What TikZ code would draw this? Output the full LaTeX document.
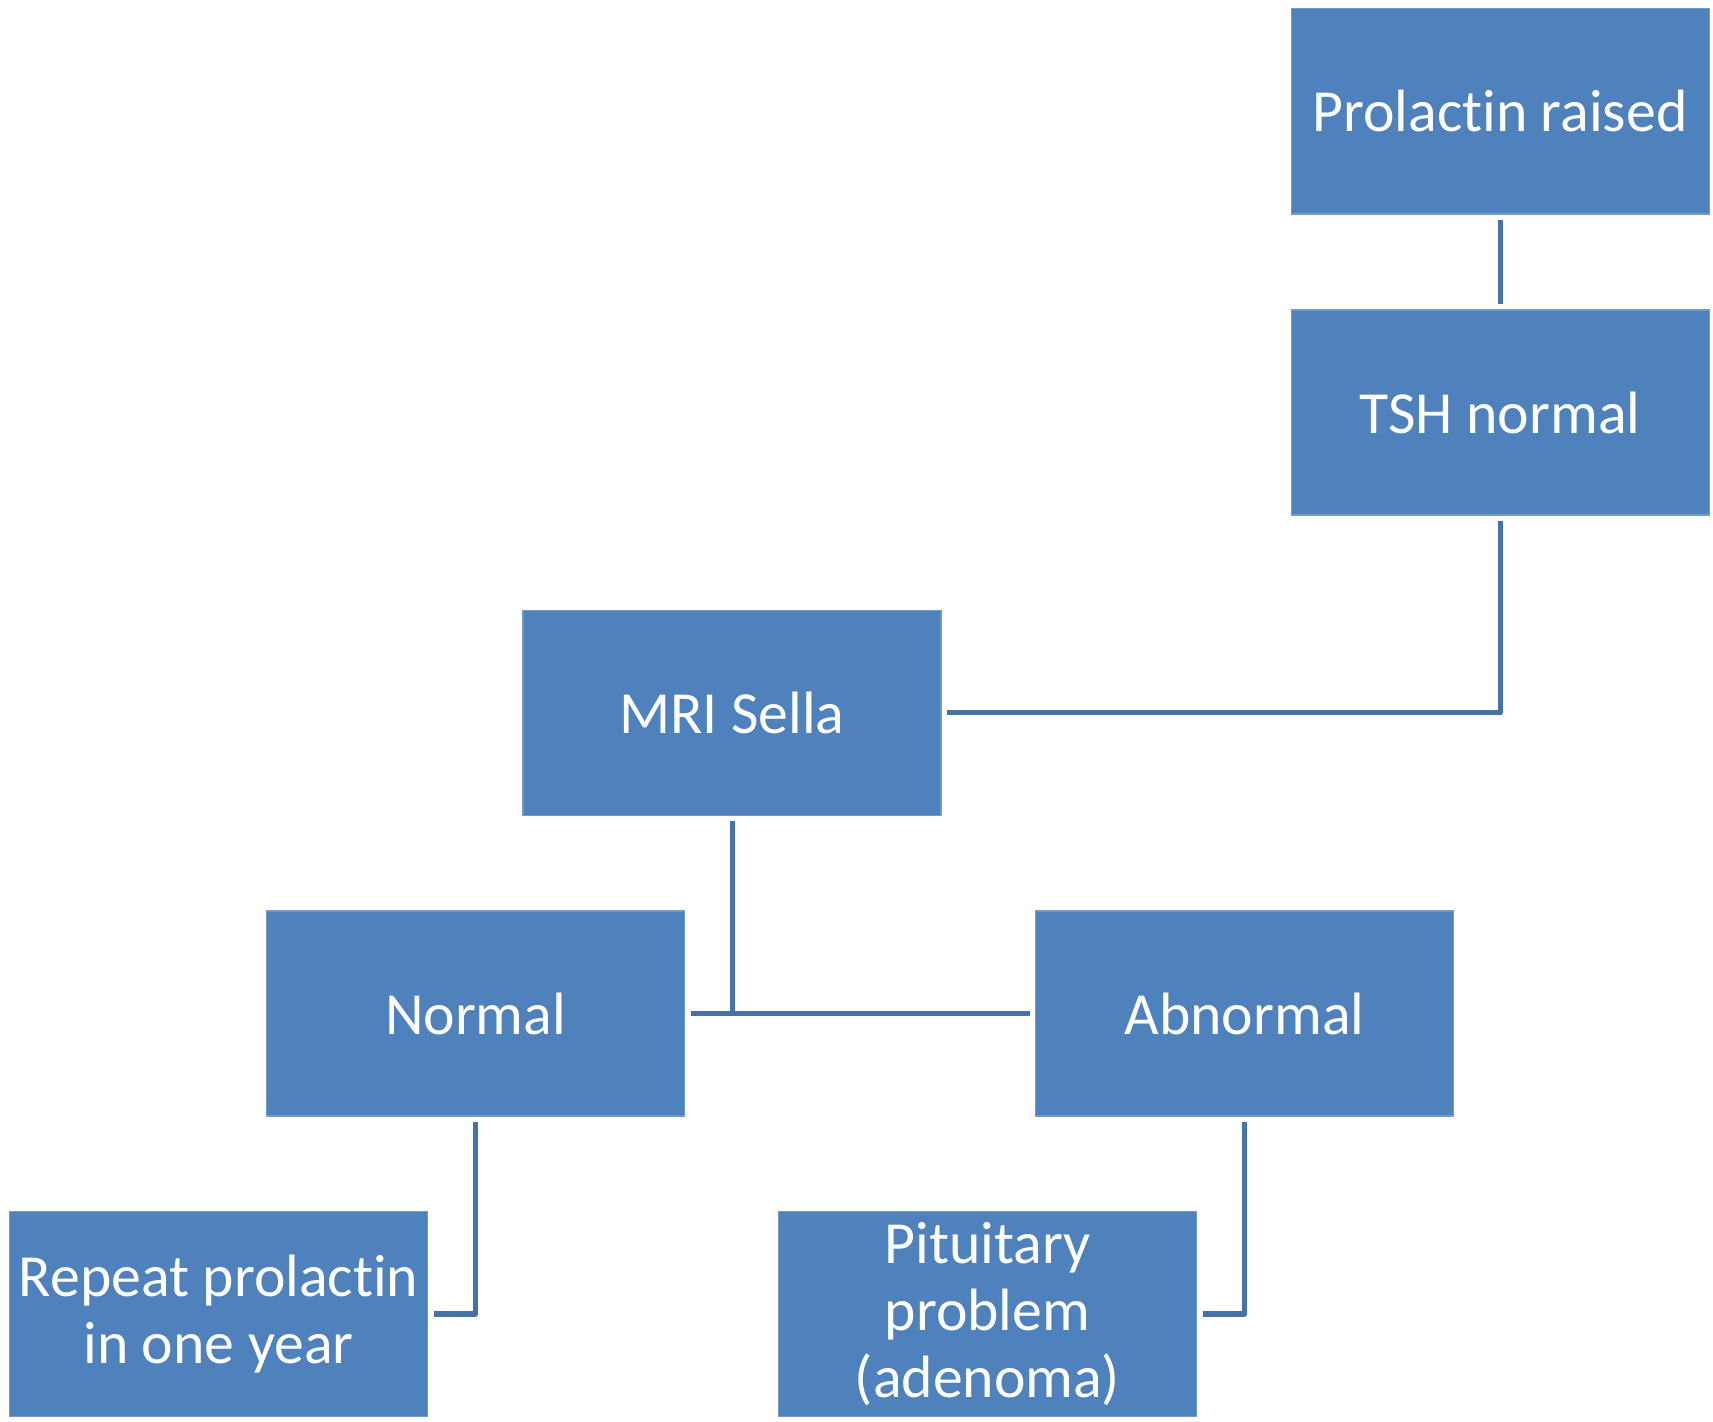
\documentclass[tikz,border=0pt]{standalone}
\usepackage{fontspec}
\setmainfont{Carlito}[Ligatures=NoCommon]
\usepackage{xcolor}
\usetikzlibrary{positioning}
\definecolor{boxblue}{HTML}{4F81BD}
\definecolor{lineblue}{HTML}{4672AA}

\begin{document}
\begin{tikzpicture}
[% The box style is used for every step of the work-up
box/.style={rectangle, fill=boxblue, draw=boxblue!80!white, line width=0.3pt, minimum width=4.18cm, minimum height=2.05cm, inner sep=2pt, outer sep=0.06cm, text=white, align=center, font=\fontsize{17}{19}\selectfont},
% The link style is used to draw the connectors
link/.style={draw=lineblue, line width=0.05cm, line join=round}
]
\useasboundingbox (0,0) rectangle (17.13,14.21);
% Draw boxes
\node[box] (prolactin) at (15.0,13.095) {Prolactin raised};
\node[box] (tsh) at (15.0,10.085) {TSH normal};
\node[box] (mri) at (7.32,7.08) {MRI Sella};
\node[box] (normal) at (4.755,4.075) {Normal};
\node[box] (abnormal) at (12.445,4.075) {Abnormal};
\node[box] (repeat) at (2.185,1.07) {Repeat prolactin\\in one year};
\node[box] (pituitary) at (9.875,1.07) {Pituitary\\problem\\(adenoma)};
% Draw connectors
\draw[link] (prolactin) -- (tsh);
\draw[link] (tsh.south) |- (mri.east);
\draw[link] (normal.east) -- (abnormal.west);
\coordinate (split) at (mri.south |- normal.east);
\draw[link] (mri.south) -- (split);
\draw[link] (normal.south) |- (repeat.east);
\draw[link] (abnormal.south) |- (pituitary.east);
\end{tikzpicture}
\end{document}
